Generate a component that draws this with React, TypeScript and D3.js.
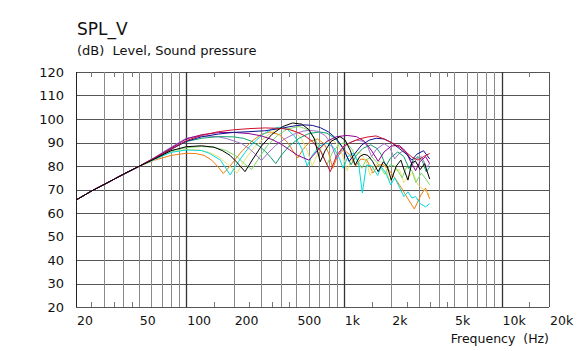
import React from 'react';
import * as d3 from 'd3';

const W = 578;
const H = 351;
const PLOT = { left: 76, right: 549, top: 72, bottom: 307 };

// Axis definitions
const yTicks = [20, 30, 40, 50, 60, 70, 80, 90, 100, 110, 120];
const xLabelValues = [20, 50, 100, 200, 500, 1000, 2000, 5000, 10000, 20000];
const xLabelTexts = ['20', '50', '100', '200', '500', '1k', '2k', '5k', '10k', '20k'];
const xGridLines = [30, 40, 50, 60, 70, 80, 90, 200, 300, 400, 500, 600, 700, 800, 900, 2000, 3000, 4000, 5000, 6000, 7000, 8000, 9000];
const xMajorLines = [100, 1000, 10000];
const xMinorTicks = [25, 35, 45, 150, 250, 350, 450, 1500, 2500, 3500, 4500, 15000];

// Shared low-frequency part (all curves coincide here)
const lowFreq: [number, number][] = [[20, 65.5], [25, 69.3], [31.5, 72.8], [40, 76.5], [50, 79.8]];

const redSeries: [number, number][] = [[63, 83.3], [80, 87.2], [100, 90.8], [125, 93], [160, 94.6], [200, 95.4], [250, 95.9], [315, 96.2], [400, 96], [450, 95.5], [500, 94.5], [560, 93], [630, 90.5], [710, 86.5], [820, 77.6], [900, 84.5], [1000, 88.5], [1120, 90.3], [1250, 91.5], [1400, 92.3], [1600, 92.8], [1800, 91.5], [2000, 90], [2300, 87.7], [2700, 83.8], [2950, 82.5], [3200, 84], [3500, 85.3]];
const navySeries: [number, number][] = [[63, 83.2], [80, 87], [100, 90.5], [125, 92.4], [160, 93.6], [200, 94.3], [250, 94.6], [315, 95], [400, 96], [450, 96.7], [500, 97.2], [560, 97.5], [630, 97.3], [710, 96.3], [800, 94.5], [900, 91.5], [1000, 87], [1080, 82], [1180, 85.5], [1300, 89], [1450, 91], [1600, 91.8], [1800, 91.5], [2000, 90], [2240, 87.5], [2500, 85], [2700, 82.5], [2900, 85], [3200, 86.5], [3500, 83]];
const purpleSeries: [number, number][] = [[63, 83.5], [80, 87.6], [100, 91.5], [125, 93.3], [160, 94.2], [200, 94.3], [250, 93.8], [300, 92.8], [350, 91.3], [400, 89.3], [450, 87], [510, 84.5], [600, 82.5], [680, 86.5], [780, 90.5], [900, 92.5], [1050, 93], [1200, 92.5], [1350, 90.5], [1500, 86.5], [1650, 82], [1800, 86], [2000, 88.5], [2240, 88.8], [2450, 86.5], [2650, 82], [2850, 78], [3050, 82], [3300, 84], [3500, 81]];
const orchidSeries: [number, number][] = [[63, 83.6], [80, 88], [100, 91.8], [112, 92.4], [125, 92.7], [140, 92.7], [160, 92.4], [180, 91.7], [200, 90.7], [225, 89.5], [250, 87.5], [275, 85], [300, 82.3], [330, 85.5], [370, 88.8], [420, 91.5], [480, 93.5], [550, 94.8], [600, 95.2], [680, 94.8], [760, 93], [830, 89.5], [900, 83], [970, 87], [1060, 89.5], [1200, 91], [1330, 90.5], [1420, 88], [1500, 84], [1600, 87], [1800, 89.5], [1950, 88], [2100, 83], [2250, 85.5], [2400, 86.5], [2550, 85], [2700, 80.5], [2900, 83], [3100, 84], [3350, 79.5], [3500, 81]];
const tealSeries: [number, number][] = [[63, 83.4], [80, 87.5], [100, 90.4], [125, 91.8], [160, 92.5], [200, 92.4], [230, 91.8], [260, 90.5], [290, 88.5], [320, 86], [345, 83.5], [370, 81], [400, 84.5], [450, 88.5], [520, 91.8], [600, 93.8], [700, 94.5], [780, 94], [870, 92], [960, 89], [1030, 85], [1110, 80.5], [1200, 84.5], [1320, 87.5], [1480, 89], [1620, 87.5], [1720, 85], [1850, 80], [1980, 83.5], [2200, 86], [2400, 84], [2590, 79], [2750, 82.5], [2960, 84], [3150, 82], [3330, 77.5], [3500, 79.5]];
const blackSeries: [number, number][] = [[63, 83], [80, 86.5], [100, 88.2], [125, 88.6], [150, 88], [170, 86.5], [190, 84.5], [210, 81.5], [236, 77.6], [265, 83], [300, 88.5], [350, 93.5], [410, 96.8], [472, 98.3], [540, 97.8], [600, 95.5], [650, 91.5], [708, 81.8], [760, 86.5], [830, 90.5], [944, 92.5], [1020, 91], [1100, 86.5], [1180, 80.4], [1260, 84], [1340, 85], [1420, 84.5], [1520, 82], [1650, 77.6], [1780, 81.8], [1880, 80], [2000, 74], [2150, 80], [2300, 82.5], [2420, 78], [2550, 74], [2700, 81.5], [2850, 82], [3050, 78.5], [3250, 81], [3500, 74.5]];
const cyanSeries: [number, number][] = [[63, 82.8], [80, 85.8], [100, 86.8], [125, 86.6], [140, 85.4], [165, 82.5], [190, 76.2], [215, 82], [250, 88], [300, 93], [350, 95.8], [390, 96.5], [440, 95.5], [490, 92.5], [540, 87.5], [585, 80], [630, 84.5], [700, 88.5], [780, 89.8], [860, 88], [940, 83], [990, 79], [1060, 84], [1150, 85.5], [1240, 81], [1310, 68.5], [1390, 80.4], [1500, 80], [1640, 76], [1720, 79.7], [1850, 77], [1980, 72], [2100, 75], [2250, 71], [2400, 67], [2550, 69], [2700, 66.4], [2850, 67], [3050, 64], [3300, 62.6], [3500, 64]];
const yellowSeries: [number, number][] = [[63, 82.7], [80, 86], [100, 87], [120, 86.8], [140, 85.8], [160, 84], [185, 80.5], [210, 77], [235, 82.5], [270, 88], [320, 92.5], [370, 95.3], [420, 96.2], [480, 95], [540, 91.5], [590, 86], [630, 80], [680, 85], [760, 90], [840, 91.2], [920, 89], [990, 84], [1050, 78], [1120, 83], [1220, 86], [1300, 85], [1400, 81], [1470, 76], [1560, 80], [1700, 82], [1850, 79], [1950, 73.5], [2100, 78], [2250, 78.5], [2400, 73], [2550, 75.5], [2750, 77], [2950, 72], [3200, 70], [3500, 68]];
const orangeSeries: [number, number][] = [[63, 82.5], [80, 84.5], [100, 85.4], [115, 85.3], [130, 84.5], [145, 82.5], [160, 79.5], [172, 76.8], [190, 80], [220, 85.5], [260, 90.5], [300, 93.5], [340, 94.5], [390, 93.3], [440, 90], [480, 86], [510, 83.4], [550, 87], [610, 90.5], [680, 91.5], [750, 89.5], [800, 85.5], [850, 79], [910, 84], [1000, 87], [1080, 85], [1190, 80], [1280, 83], [1400, 82.5], [1530, 77], [1650, 80.5], [1800, 80.5], [1950, 78], [2100, 75], [2300, 71], [2550, 66], [2800, 61.7], [3100, 68], [3300, 70.6], [3500, 66]];
const limeSeries: [number, number][] = [[63, 83], [80, 86.5], [100, 87.8], [125, 88.3], [150, 88], [180, 86.5], [210, 84], [235, 80.8], [260, 78.5], [290, 83.5], [330, 89], [380, 93], [440, 95.8], [520, 96.8], [590, 95.5], [650, 92], [710, 87], [780, 80.5], [850, 86], [940, 89.5], [1040, 89.8], [1130, 87], [1220, 82.5], [1300, 79], [1380, 82.5], [1500, 84], [1620, 81.5], [1820, 76.5], [1960, 80.5], [2100, 80], [2340, 75], [2500, 79.5], [2700, 78], [2860, 73], [3100, 77], [3350, 74], [3500, 72]];

const seriesList: { name: string; color: string; data: [number, number][] }[] = [
  { name: 'orange', color: '#f07c10', data: orangeSeries },
  { name: 'yellow', color: '#ece070', data: yellowSeries },
  { name: 'lime', color: '#7ada6a', data: limeSeries },
  { name: 'cyan', color: '#00dcdc', data: cyanSeries },
  { name: 'orchid', color: '#a070cc', data: orchidSeries },
  { name: 'teal', color: '#10a070', data: tealSeries },
  { name: 'purple', color: '#900090', data: purpleSeries },
  { name: 'navy', color: '#101090', data: navySeries },
  { name: 'red', color: '#d01030', data: redSeries },
  { name: 'black', color: '#000000', data: blackSeries },
];

const FONT = '"DejaVu Sans", Verdana, sans-serif';

export default function App() {
  const x = d3.scaleLog().domain([20, 20000]).range([PLOT.left, PLOT.right]);
  const y = d3.scaleLinear().domain([20, 120]).range([PLOT.bottom, PLOT.top]);
  const line = d3
    .line<[number, number]>()
    .x((d) => x(d[0]))
    .y((d) => y(d[1]));

  return (
    <svg
      width={W}
      height={H}
      style={{ position: 'absolute', left: 0, top: 0, background: '#fff' }}
      fontFamily={FONT}
    >
      <rect x={0} y={0} width={W} height={H} fill="#fff" />
      <text x={77} y={35} fontSize={17} fill="#111">SPL_V</text>
      <text x={77} y={55} fontSize={13} fill="#111" style={{ whiteSpace: 'pre' }}>
        {'(dB)  Level, Sound pressure'}
      </text>

      {/* horizontal grid */}
      {yTicks.map((t) => (
        <line key={'h' + t} x1={PLOT.left} x2={PLOT.right} y1={Math.round(y(t)) + 0.5} y2={Math.round(y(t)) + 0.5} stroke="#555" strokeWidth={1} />
      ))}
      {/* vertical grid */}
      {xGridLines.map((t) => (
        <line key={'v' + t} x1={Math.round(x(t)) + 0.5} x2={Math.round(x(t)) + 0.5} y1={PLOT.top} y2={PLOT.bottom} stroke="#8a8a8a" strokeWidth={1} />
      ))}
      {xMajorLines.map((t) => (
        <line key={'m' + t} x1={Math.round(x(t)) + 0.5} x2={Math.round(x(t)) + 0.5} y1={PLOT.top} y2={PLOT.bottom} stroke="#333" strokeWidth={1.3} />
      ))}
      {/* minor ticks top/bottom */}
      {xMinorTicks.map((t) => (
        <g key={'t' + t}>
          <line x1={Math.round(x(t)) + 0.5} x2={Math.round(x(t)) + 0.5} y1={PLOT.top} y2={PLOT.top + 5} stroke="#777" />
          <line x1={Math.round(x(t)) + 0.5} x2={Math.round(x(t)) + 0.5} y1={PLOT.bottom - 5} y2={PLOT.bottom} stroke="#777" />
        </g>
      ))}
      {/* frame */}
      <line x1={PLOT.left + 0.5} x2={PLOT.left + 0.5} y1={PLOT.top} y2={PLOT.bottom} stroke="#222" />
      <line x1={PLOT.right + 0.5} x2={PLOT.right + 0.5} y1={PLOT.top} y2={PLOT.bottom} stroke="#555" />

      {/* curves */}
      <g>
        {seriesList.map((s) => (
          <path key={s.name} d={line([...lowFreq, ...s.data]) || ''} fill="none" stroke={s.color} strokeWidth={1} />
        ))}
      </g>

      {/* y labels */}
      {yTicks.map((t) => (
        <text key={'yl' + t} x={64} y={y(t) + 4.5} fontSize={13} textAnchor="end" fill="#111">{t}</text>
      ))}
      {/* x labels */}
      {xLabelValues.map((v, i) => (
        <text key={'xl' + v} x={x(v) + 1} y={325} fontSize={12.5} fill="#111">{xLabelTexts[i]}</text>
      ))}
      <text x={549} y={343} fontSize={12.5} textAnchor="end" fill="#111" style={{ whiteSpace: 'pre' }}>
        {'Frequency  (Hz)'}
      </text>
    </svg>
  );
}
